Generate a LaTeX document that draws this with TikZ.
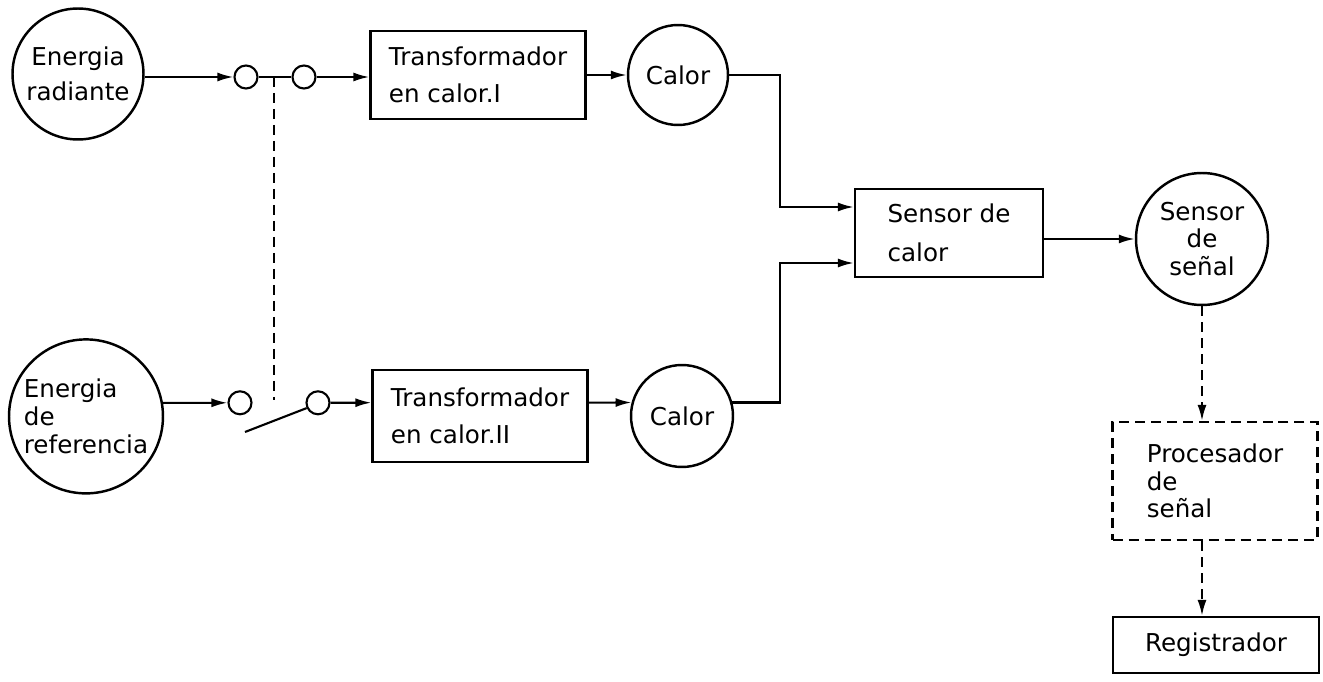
\documentclass[tikz,border=0pt]{standalone}
\usepackage{fontspec}
\setmainfont{DejaVu Sans}
\usetikzlibrary{arrows.meta}

\begin{document}
\begin{tikzpicture}[
      x=0.02cm, y=-0.02cm,
      line width=1.2pt,
      every node/.style = {font=\fontsize{14}{20}\selectfont, inner sep=0pt},
      blk/.style   = {draw, rectangle, line width=1.3pt, align=left},
      ball/.style  = {draw, circle, line width=1.4pt, align=center},
      knob/.style  = {draw, circle, line width=1.2pt, minimum size=4.6mm},
      arrow/.style = {-{Latex[length=3.2mm,width=1.8mm]}},
      link/.style  = {dash pattern=on 2mm off 1.2mm}
    ]
    \useasboundingbox (0,0) rectangle (1323,682);

    % upper branch
    \node[ball, minimum size=26.2mm] (rad) at (78,74) {Energia\\radiante};
    \node[knob] (c1) at (246,77) {};
    \node[knob] (c2) at (304,77) {};
    \node[blk, minimum width=43mm, minimum height=17.6mm,
          font=\fontsize{14}{21}\selectfont] (tr1) at (478,75) {Transformador\\en calor.I};
    \node[ball, minimum size=20mm] (cal1) at (678,75) {Calor};

    % lower branch
    \node[ball, minimum size=30.8mm, align=left,
          font=\fontsize{14}{16}\selectfont] (ref) at (86,416.4) {Energia\\de\\referencia};
    \node[knob] (c3) at (240,402.8) {};
    \node[knob] (c4) at (318,402.8) {};
    \node[blk, minimum width=43mm, minimum height=18.4mm,
          font=\fontsize{14}{21}\selectfont] (tr2) at (480,416) {Transformador\\en calor.II};
    \node[ball, minimum size=20.4mm] (cal2) at (682,416) {Calor};

    \coordinate (sw)  at (274,77);
    \coordinate (swb) at (274,400);
    \coordinate (lev) at (245,432);
    \coordinate (j1)  at (780,207);
    \coordinate (j2)  at (780,263);

    % sensing chain
    \node[blk, minimum width=37.6mm, minimum height=17.6mm,
          font=\fontsize{14}{22}\selectfont] (sc) at (949,233) {Sensor de\\calor};
    \node[ball, minimum size=26.4mm,
          font=\fontsize{14}{15.5}\selectfont] (ss) at (1202,239) {Sensor\\de\\señal};
    \node[blk, link, minimum width=41mm, minimum height=23.6mm,
          font=\fontsize{14}{15.5}\selectfont] (proc) at (1215,481) {Procesador\\de\\señal};
    \node[blk, minimum width=41.2mm, minimum height=11.2mm] (reg) at (1216,645) {Registrador};

    \draw[arrow] (c1 -| rad.east) -- (c1);
    \draw (c1) -- (c2);
    \draw[link] (sw) -- (swb);
    \draw[arrow] (c2) -- (c2 -| tr1.west);
    \draw[arrow] (tr1) -- (cal1);
    \draw[arrow] (cal1) -| (j1) -- (j1 -| sc.west);

    \draw[arrow] (ref.10) -- (c3);
    \draw (lev) -- (c4.205);
    \draw[arrow] (c4) -- (tr2.173);
    \draw[arrow] (tr2.7) -- (cal2.165);
    \draw[arrow] (cal2.15) -| (j2) -- (j2 -| sc.west);

    \draw[arrow] (sc.east |- ss) -- (ss);
    \draw[arrow, link] (ss) -- (ss |- proc.north);
    \draw[arrow, link] (proc.south -| ss) -- (reg.north -| ss);
  \end{tikzpicture}
\end{document}
